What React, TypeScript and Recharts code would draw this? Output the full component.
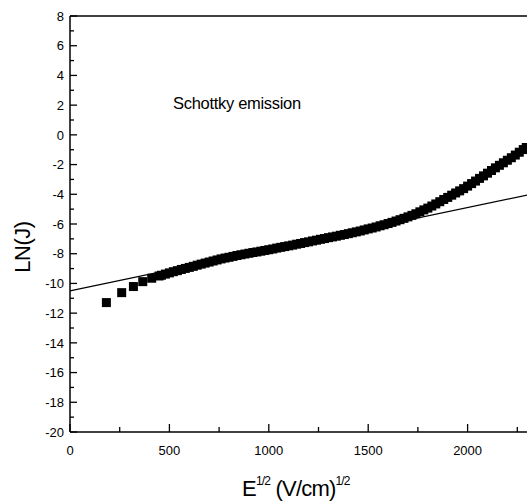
import { ScatterChart, Scatter, XAxis, YAxis, ReferenceLine } from 'recharts';

// ln(J) against sqrt(E); the fit line is the Schottky emission straight line
const fieldRoot = [
  183, 260, 319, 366, 411, 448, 460, 480, 500, 520, 540, 560, 580, 600, 620, 640, 660, 680,
  700, 720, 740, 760, 780, 800, 820, 840, 860, 880, 900, 920, 940, 960, 980, 1000, 1020,
  1040, 1060, 1080, 1100, 1120, 1140, 1160, 1180, 1200, 1220, 1240, 1260, 1280, 1300, 1320,
  1340, 1360, 1380, 1400, 1420, 1440, 1460, 1480, 1500, 1520, 1540, 1560, 1580, 1600, 1620,
  1640, 1660, 1680, 1700, 1720, 1740, 1760, 1780, 1800, 1820, 1840, 1860, 1880, 1900, 1920,
  1940, 1960, 1980, 2000, 2020, 2040, 2060, 2080, 2100, 2120, 2140, 2160, 2180, 2200, 2220,
  2240, 2260, 2280, 2295,
];
const lnJ = [
  -11.29, -10.62, -10.21, -9.88, -9.65, -9.5, -9.45, -9.37, -9.29, -9.21, -9.14, -9.06, -8.99,
  -8.92, -8.85, -8.77, -8.7, -8.63, -8.56, -8.49, -8.42, -8.35, -8.29, -8.24, -8.18, -8.12,
  -8.07, -8.02, -7.97, -7.92, -7.88, -7.83, -7.78, -7.73, -7.68, -7.62, -7.57, -7.52, -7.47,
  -7.42, -7.36, -7.31, -7.25, -7.2, -7.14, -7.09, -7.03, -6.98, -6.92, -6.87, -6.82, -6.76,
  -6.71, -6.65, -6.59, -6.53, -6.47, -6.4, -6.33, -6.27, -6.2, -6.12, -6.05, -5.97, -5.89,
  -5.8, -5.71, -5.62, -5.52, -5.42, -5.31, -5.18, -5.05, -4.93, -4.79, -4.65, -4.5, -4.35,
  -4.21, -4.06, -3.91, -3.77, -3.62, -3.45, -3.28, -3.11, -2.93, -2.76, -2.58, -2.4, -2.22,
  -2.05, -1.88, -1.71, -1.54, -1.36, -1.17, -0.99, -0.85,
];
const fitRoot = [0, 2300];
const fitLnJ = [-10.5, -4.05];

const xTicks = [0, 250, 500, 750, 1000, 1250, 1500, 1750, 2000, 2250];
const yTicks = [
  -20, -19, -18, -17, -16, -15, -14, -13, -12, -11, -10, -9, -8, -7, -6, -5, -4, -3, -2, -1,
  0, 1, 2, 3, 4, 5, 6, 7, 8,
];

const points = fieldRoot.map((x, i) => ({ x, y: lnJ[i] }));
const fit = fitRoot.map((x, i) => ({ x, y: fitLnJ[i] }));

const PLOT_LEFT = 70;
const PLOT_BOTTOM = 432;
const FONT = '"Liberation Sans", Arial, Helvetica, sans-serif';

const Square = (props: any) => {
  const { cx, cy } = props;
  return <rect x={cx - 4.5} y={cy - 4.5} width={9} height={9} fill="#000" />;
};

const NoDot = () => <g />;

const XTick = (props: any) => {
  const { x, payload } = props;
  const major = payload.value % 500 === 0;
  return (
    <g>
      <line x1={x} x2={x} y1={PLOT_BOTTOM} y2={PLOT_BOTTOM - (major ? 8 : 5)} stroke="#000" strokeWidth={1.3} />
      {major && (
        <text x={x} y={PLOT_BOTTOM + 23} textAnchor="middle" fontSize={13} fontFamily={FONT} fill="#000">
          {payload.value}
        </text>
      )}
    </g>
  );
};

const YTick = (props: any) => {
  const { y, payload } = props;
  const major = payload.value % 2 === 0;
  return (
    <g>
      <line x1={PLOT_LEFT} x2={PLOT_LEFT + (major ? 7 : 4)} y1={y} y2={y} stroke="#000" strokeWidth={1.3} />
      {major && (
        <text x={64} y={y} dy="0.36em" textAnchor="end" fontSize={13} fontFamily={FONT} fill="#000">
          {payload.value}
        </text>
      )}
    </g>
  );
};

const YTitle = () => (
  <text
    x={30}
    y={247}
    transform="rotate(-90, 30, 247)"
    textAnchor="middle"
    fontSize={22}
    fontFamily={FONT}
    letterSpacing={-0.5}
    fill="#000"
  >
    LN(J)
  </text>
);

const XTitle = () => (
  <text x={242} y={496} fontSize={22} fontFamily={FONT} letterSpacing={-0.8} fill="#000">
    E
    <tspan fontSize={12} dy={-11}>1/2</tspan>
    <tspan fontSize={22} dy={11}> (V/cm)</tspan>
    <tspan fontSize={12} dy={-11}>1/2</tspan>
  </text>
);

export default function App() {
  return (
    <div
      style={{
        position: 'fixed',
        top: 0,
        left: 0,
        width: 527,
        height: 502,
        overflow: 'hidden',
        background: '#fff',
      }}
    >
      <ScatterChart width={567} height={502} margin={{ top: 16, right: 0, bottom: 0, left: 0 }}>
        <XAxis
          type="number"
          dataKey="x"
          domain={[0, 2500]}
          ticks={xTicks}
          interval={0}
          height={70}
          tickLine={false}
          axisLine={{ stroke: '#000', strokeWidth: 1.5 }}
          tick={<XTick />}
          label={{ content: () => <XTitle /> }}
        />
        <YAxis
          type="number"
          dataKey="y"
          domain={[-20, 8]}
          ticks={yTicks}
          interval={0}
          width={70}
          tickLine={false}
          axisLine={{ stroke: '#000', strokeWidth: 1.5 }}
          tick={<YTick />}
          label={{ content: () => <YTitle /> }}
        />
        <ReferenceLine y={8} stroke="#000" strokeWidth={1.5} />
        <Scatter data={fit} line={{ stroke: '#000', strokeWidth: 1.2 }} shape={<NoDot />} isAnimationActive={false} />
        <Scatter data={points} shape={<Square />} isAnimationActive={false} />
        <text x={173} y={109} fontSize={16.5} fontFamily={FONT} letterSpacing={-0.3} fill="#000">
          Schottky emission
        </text>
      </ScatterChart>
    </div>
  );
}
